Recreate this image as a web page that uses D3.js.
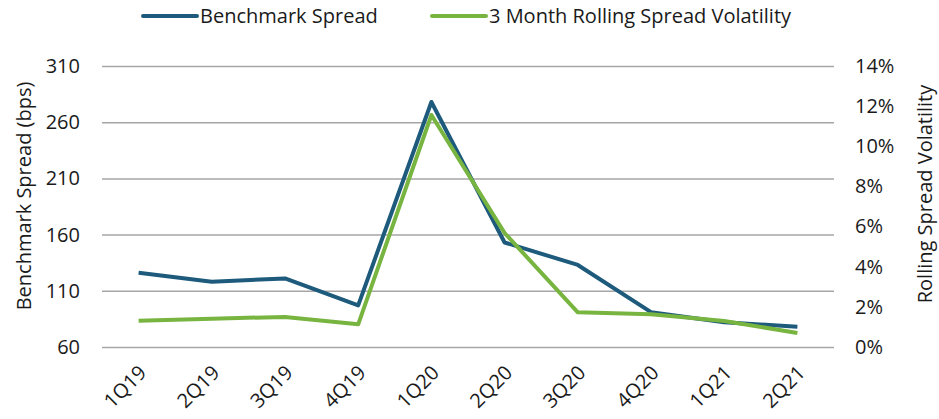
<!DOCTYPE html>
<html>
<head>
<meta charset="utf-8">
<script src="https://cdn.jsdelivr.net/npm/d3@7"></script>
<style>
  body { margin: 0; background: #fff; }
  text { font-family: "Open Sans", "Liberation Sans", sans-serif; fill: #1a1a1a; }
</style>
</head>
<body>
<div id="chart"></div>
<script>
const WIDTH = 939;
const HEIGHT = 419;

// data
const quarters = ["1Q19", "2Q19", "3Q19", "4Q19", "1Q20", "2Q20", "3Q20", "4Q20", "1Q21", "2Q21"];
const spread = [126, 118, 121, 97, 278, 153, 133, 91, 82, 78];
const volatility = [1.31, 1.41, 1.5, 1.13, 11.56, 5.68, 1.73, 1.63, 1.3, 0.7];
const leftTicks = [60, 110, 160, 210, 260, 310];
const rightTicks = [0, 2, 4, 6, 8, 10, 12, 14];

const colors = { spread: "#1d5a7c", vol: "#78b440", grid: "#a6a6a6" };

const plotL = 102, plotR = 834, plotT = 66, plotB = 347;
const FS = 20;

const svg = d3.select("#chart").append("svg")
  .attr("width", WIDTH)
  .attr("height", HEIGHT);

const x = d3.scaleBand().domain(quarters).range([plotL, plotR]);
const yL = d3.scaleLinear().domain([60, 310]).range([plotB, plotT]);
const yR = d3.scaleLinear().domain([0, 14]).range([plotB, plotT]);

// gridlines + left axis
const leftAxis = svg.append("g")
  .attr("transform", "translate(" + plotL + ",0)")
  .call(d3.axisLeft(yL).tickValues(leftTicks).tickSize(-(plotR - plotL)).tickPadding(22));
leftAxis.select(".domain").remove();
leftAxis.selectAll("line").attr("stroke", colors.grid).attr("stroke-width", 1.5);
leftAxis.selectAll("text").attr("font-size", FS).attr("fill", "#1a1a1a");

// right axis, labels only
const rightAxis = svg.append("g")
  .attr("transform", "translate(" + plotR + ",0)")
  .call(d3.axisRight(yR).tickValues(rightTicks).tickSize(0).tickPadding(21).tickFormat(d => d + "%"));
rightAxis.select(".domain").remove();
rightAxis.selectAll("text").attr("font-size", FS).attr("fill", "#1a1a1a");

// x axis, rotated labels
const xAxis = svg.append("g")
  .attr("transform", "translate(0," + plotB + ")")
  .call(d3.axisBottom(x).tickSize(0).tickPadding(0));
xAxis.select(".domain").remove();
xAxis.selectAll("text")
  .attr("font-size", FS)
  .attr("fill", "#1a1a1a")
  .attr("text-anchor", "end")
  .attr("dy", null)
  .attr("y", 0)
  .attr("transform", "translate(9,27) rotate(-45)");

// axis titles
svg.append("text")
  .attr("transform", "translate(31,196) rotate(-90)")
  .attr("text-anchor", "middle")
  .attr("font-size", FS)
  .text("Benchmark Spread (bps)");
svg.append("text")
  .attr("transform", "translate(932,194) rotate(-90)")
  .attr("text-anchor", "middle")
  .attr("font-size", FS)
  .text("Rolling Spread Volatility");

// lines
const cx = d => x(d) + x.bandwidth() / 2;
const lineL = d3.line().x((d, i) => cx(quarters[i])).y(d => yL(d));
const lineR = d3.line().x((d, i) => cx(quarters[i])).y(d => yR(d));

svg.append("path")
  .datum(spread)
  .attr("d", lineL)
  .attr("fill", "none")
  .attr("stroke", colors.spread)
  .attr("stroke-width", 4)
  .attr("stroke-linejoin", "round");
svg.append("path")
  .datum(volatility)
  .attr("d", lineR)
  .attr("fill", "none")
  .attr("stroke", colors.vol)
  .attr("stroke-width", 4)
  .attr("stroke-linejoin", "round");

// legend
const legend = [
  { label: "Benchmark Spread", color: colors.spread, x: 143 },
  { label: "3 Month Rolling Spread Volatility", color: colors.vol, x: 432 }
];
const lg = svg.append("g").selectAll("g").data(legend).join("g")
  .attr("transform", d => "translate(" + d.x + ",16)");
lg.append("line")
  .attr("x1", 0).attr("x2", 54)
  .attr("stroke", d => d.color)
  .attr("stroke-width", 4)
  .attr("stroke-linecap", "round");
lg.append("text")
  .attr("x", 57)
  .attr("dy", "0.35em")
  .attr("font-size", FS)
  .text(d => d.label);
</script>
</body>
</html>
